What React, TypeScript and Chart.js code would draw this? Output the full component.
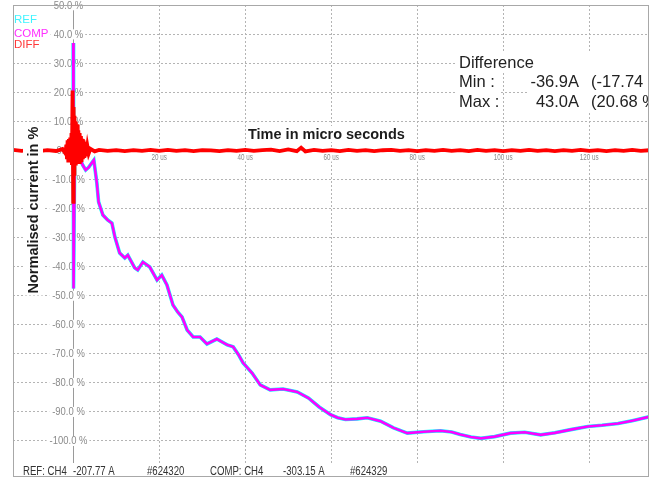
import React, { useEffect, useRef } from 'react';
import { Chart, registerables } from 'chart.js';

Chart.register(...registerables);

// ---------- data ----------
const seriesNames = ['REF', 'COMP', 'DIFF'];
const seriesColors = ['#00ffff', '#ff00ff', '#ff0000'];
const legendColors = ['#40f4ff', '#ff30ff', '#ff3838'];

const yTickValues = [50, 40, 30, 20, 10, 0, -10, -20, -30, -40, -50, -60, -70, -80, -90, -100];
const yGridValues = [40, 30, 20, 10, 0, -10, -20, -30, -40, -50, -60, -70, -80, -90, -100];
const xTickValues = [20, 40, 60, 80, 100, 120];
const xTickLabels = ['20 us', '40 us', '60 us', '80 us', '100 us', '120 us'];

const xTitle = 'Time in micro seconds';
const yTitle = 'Normalised current in %';

const diffTitle = 'Difference';
const diffRowLabels = ['Min :', 'Max :'];
const diffRowAmps = ['-36.9A', '43.0A'];
const diffRowPercents = ['(-17.74 %)', '(20.68 %)'];

const footerTexts = ['REF: CH4', '-207.77 A', '#624320', 'COMP: CH4', '-303.15 A', '#624329'];

// COMP curve (us, %)
const compTimes = [0, 0.08, 0.35, 0.8, 1.5, 2.2, 2.9, 3.6, 4.3, 4.8, 5.5, 5.9, 6.9, 8.0, 9.0, 9.7,
  10.8, 12.0, 12.7, 14.3, 15.0, 16.2, 17.8, 19.5, 20.6, 21.8, 23.2, 24.3, 25.3, 26.5, 27.9, 29.5, 31.1,
  33.4, 35.8, 37.2, 38.4, 39.5, 41.6, 43.5, 45.8, 48.8, 50.5, 52.1, 54.7, 57.2, 59.8, 61.5, 63.3, 66.0, 68.4, 71.5, 74.5,
  77.7, 81.5, 85.4, 88.0, 90.0, 92.5, 94.8, 98.0, 101.7, 105.0, 108.7, 112.0, 116.0, 119.7, 123.0, 126.7, 130.0, 133.9];
const compValues = [37, -47.5, -1.5, -2.5, -2.6, -5.0, -6.7, -5.8, -4.3, -3.3, -11.2, -17.7, -22.2, -23.9, -25.0, -29.8,
  -35.3, -37.0, -36.0, -40.4, -41.1, -38.4, -40.1, -44.6, -42.9, -46.3, -53.2, -55.6, -57.3, -61.8, -64.2, -64.2, -66.6,
  -64.9, -66.9, -67.6, -70.2, -73.1, -76.6, -80.7, -82.4, -82.1, -82.6, -83.1, -85.2, -88.3, -90.9, -92.0, -92.6, -92.4, -92.0, -93.2, -95.5,
  -97.3, -96.8, -96.5, -96.9, -97.8, -98.6, -99.1, -98.5, -97.3, -97.0, -97.9, -97.2, -96.0, -95.0, -94.6, -94.0, -93.0, -91.7];
// REF lies under COMP (same trace within line width)
const refTimes = compTimes;
const refValues = compValues;

// DIFF trace (us, %)
const diffTimes = [
  -14, -12, -10, -8, -6, -4, -2.5, -1.8, -1.6, -1.45,
  -1.3, -1.15, -1.0, -0.85, -0.7, -0.55, -0.4, -0.3, -0.15, 0,
  0.1, 0.2, 0.3, 0.45, 0.6, 0.75, 0.9, 1.05, 1.2, 1.35,
  1.5, 1.65, 1.8, 1.95, 2.1, 2.25, 2.4, 2.6, 2.8, 3.0,
  3.3, 3.6, 4, 5, 6, 8, 10, 12, 14, 16,
  18, 20, 22, 24, 26, 28, 30, 32, 34, 36,
  38, 40, 42, 44, 46, 48, 50, 52, 53, 54,
  56, 58, 60, 62, 64, 66, 68, 70, 72, 74,
  76, 78, 80, 82, 84, 86, 88, 90, 92, 94,
  96, 98, 100, 102, 104, 106, 108, 110, 112, 114,
  116, 118, 120, 122, 124, 126, 128, 130, 132, 133.9];
const diffValues = [
  0.2, -0.1, 0.15, -0.2, 0.1, -0.15, 0.5, -1.0, 2.0, -3.0,
  3.5, -3.5, 4.0, -4.0, 4.5, -3.0, 6.0, -5.0, 20.7, -17.7,
  15.0, -8.0, 12.0, -4.5, 10.0, -4.0, 9.0, -4.5, 7.0, -4.0,
  6.0, -3.5, 5.0, -4.0, 4.0, -3.0, 3.5, -2.5, 3.0, -2.0,
  1.5, -1.0, 0.6, -0.3, 0.2, -0.1, 0.15, -0.2, 0.1, -0.15,
  0.2, -0.1, 0.25, -0.15, 0.1, -0.2, 0.15, 0.05, -0.2, 0.15,
  -0.1, 0.2, -0.15, 0.1, 0.3, -0.2, 0.4, -0.2, 1.0, -0.3,
  0.2, -0.15, 0.1, -0.2, 0.25, -0.1, 0.15, -0.2, 0.1, 0.2,
  -0.15, 0.1, -0.2, 0.15, -0.1, 0.2, -0.15, 0.1, -0.2, 0.25,
  -0.1, 0.15, -0.2, 0.1, -0.15, 0.2, -0.1, 0.15, -0.2, 0.1,
  -0.15, 0.2, -0.1, 0.15, -0.2, 0.1, -0.15, 0.2, -0.1, 0.1];

const xMin = -14.0;
const xMax = 133.9;
const yMin = -112.4;
const yMax = 50.1;

const toPoints = (ts: number[], vs: number[]) => ts.map((t, i) => ({ x: t, y: vs[i] }));

const FONT = '"Liberation Sans", Arial, sans-serif';

function condensedText(ctx: CanvasRenderingContext2D, text: string, x: number, y: number, sx: number, align: CanvasTextAlign) {
  ctx.save();
  ctx.translate(x, y);
  ctx.scale(sx, 1);
  ctx.textAlign = align;
  ctx.fillText(text, 0, 0);
  ctx.restore();
}

const overlayPlugin = {
  id: 'scopeOverlay',
  beforeDatasetsDraw(chart: any) {
    const { ctx, chartArea: a, scales } = chart;
    const xs = scales.x;
    const ys = scales.y;
    const x0 = Math.round(xs.getPixelForValue(0)) + 0.5;
    ctx.save();
    // y axis line at t = 0
    ctx.strokeStyle = '#9a9a9a';
    ctx.lineWidth = 1;
    ctx.beginPath();
    ctx.moveTo(x0, a.top);
    ctx.lineTo(x0, a.bottom);
    ctx.stroke();

    // y tick labels centred near the axis
    ctx.font = `10.5px ${FONT}`;
    ctx.textBaseline = 'middle';
    yTickValues.forEach((v) => {
      const py = ys.getPixelForValue(v);
      const label = `${v.toFixed(1)} %`;
      const w = ctx.measureText(label).width * 0.9;
      const cx = x0 - 5;
      ctx.fillStyle = '#ffffff';
      ctx.fillRect(cx - w / 2 - 3, py - 5, w + 5, 10);
      ctx.fillStyle = '#8a8a8a';
      condensedText(ctx, label, cx, py + 0.5, 0.9, 'center');
    });

    // x tick labels under zero line
    const zy = ys.getPixelForValue(0);
    ctx.font = `9.5px ${FONT}`;
    xTickValues.forEach((t, i) => {
      const px = xs.getPixelForValue(t);
      const w = ctx.measureText(xTickLabels[i]).width * 0.66;
      ctx.fillStyle = '#ffffff';
      ctx.fillRect(px - w / 2 - 1, zy + 2, w + 2, 9);
      ctx.fillStyle = '#8a8a8a';
      condensedText(ctx, xTickLabels[i], px, zy + 6.5, 0.66, 'center');
    });
    ctx.restore();
  },
  afterDatasetsDraw(chart: any) {
    const { ctx, chartArea: a, scales } = chart;
    const ys = scales.y;
    ctx.save();
    ctx.beginPath();
    ctx.rect(a.left, a.top, a.right - a.left, a.bottom - a.top);
    ctx.clip();

    // rotated y title
    ctx.font = `bold 14.5px ${FONT}`;
    ctx.textBaseline = 'middle';
    ctx.textAlign = 'center';
    const yw = ctx.measureText(yTitle).width;
    ctx.save();
    ctx.translate(33, ys.getPixelForValue(-20.5));
    ctx.rotate(-Math.PI / 2);
    ctx.fillStyle = '#ffffff';
    ctx.fillRect(-yw / 2 - 2, -10, yw + 4, 20);
    ctx.fillStyle = '#1c1c1c';
    ctx.fillText(yTitle, 0, 1);
    ctx.restore();

    // x title
    ctx.textBaseline = 'alphabetic';
    ctx.textAlign = 'left';
    const xw = ctx.measureText(xTitle).width;
    ctx.fillStyle = '#ffffff';
    ctx.fillRect(246, 126, xw + 4, 16);
    ctx.fillStyle = '#1c1c1c';
    ctx.fillText(xTitle, 248, 139);

    // difference box
    ctx.font = `16.5px ${FONT}`;
    ctx.fillStyle = '#ffffff';
    ctx.fillRect(457, 53, a.right - 457, 20);
    ctx.fillRect(457, 73, 43, 38);
    ctx.fillRect(527, 73, a.right - 527, 38);
    ctx.fillStyle = '#222222';
    ctx.fillText(diffTitle, 459, 68);
    const rowBase = [86.5, 106.5];
    diffRowLabels.forEach((lab, i) => {
      ctx.textAlign = 'left';
      ctx.fillText(lab, 459, rowBase[i]);
      ctx.textAlign = 'right';
      ctx.fillText(diffRowAmps[i], 579, rowBase[i]);
      ctx.textAlign = 'left';
      ctx.fillText(diffRowPercents[i], 591, rowBase[i]);
    });

    // legend
    ctx.font = `11.5px ${FONT}`;
    const legBase = [22.5, 36.5, 47.5];
    seriesNames.forEach((n, i) => {
      const w = ctx.measureText(n).width;
      ctx.fillStyle = '#ffffff';
      ctx.fillRect(a.left + 1, legBase[i] - 9, w + 2, 11);
      ctx.fillStyle = legendColors[i];
      ctx.fillText(n, a.left + 1, legBase[i]);
    });

    // footer band
    ctx.fillStyle = '#ffffff';
    ctx.fillRect(a.left + 1, 463, a.right - a.left - 2, a.bottom - 463);
    ctx.font = `12px ${FONT}`;
    ctx.fillStyle = '#333333';
    const footX = [23, 73, 147, 210, 283, 350];
    footerTexts.forEach((t, i) => condensedText(ctx, t, footX[i], 474.5, 0.8, 'left'));
    ctx.restore();

    // frame
    ctx.save();
    ctx.strokeStyle = '#a8a8a8';
    ctx.lineWidth = 1;
    ctx.strokeRect(a.left + 0.5, a.top + 0.5, a.right - a.left - 1, a.bottom - a.top - 1);
    ctx.restore();
  },
};

export default function App() {
  const ref = useRef<HTMLCanvasElement | null>(null);
  useEffect(() => {
    if (!ref.current) return;
    const chart = new Chart(ref.current, {
      type: 'scatter',
      data: {
        datasets: [
          {
            label: seriesNames[2],
            data: toPoints(diffTimes, diffValues),
            borderColor: seriesColors[2],
            backgroundColor: seriesColors[2],
            borderWidth: 3.8,
            showLine: true,
            pointRadius: 0,
            tension: 0,
          },
          {
            label: seriesNames[1],
            data: toPoints(compTimes, compValues),
            borderColor: seriesColors[1],
            backgroundColor: seriesColors[1],
            borderWidth: 2.6,
            showLine: true,
            pointRadius: 0,
            tension: 0,
          },
          {
            label: seriesNames[0],
            data: toPoints(refTimes, refValues),
            borderColor: seriesColors[0],
            backgroundColor: seriesColors[0],
            borderWidth: 3.6,
            showLine: true,
            pointRadius: 0,
            tension: 0,
          },
        ],
      },
      options: {
        animation: false,
        responsive: false,
        devicePixelRatio: 1,
        layout: { padding: { left: 13, top: 5, right: 14, bottom: 5 } },
        plugins: { legend: { display: false }, tooltip: { enabled: false } },
        scales: {
          x: {
            type: 'linear',
            min: xMin,
            max: xMax,
            afterBuildTicks: (s: any) => { s.ticks = xTickValues.map((v) => ({ value: v })); },
            ticks: { display: false },
            grid: { color: '#b4b4b4', lineWidth: 1, drawTicks: false },
            border: { display: false, dash: [2, 2] },
          },
          y: {
            type: 'linear',
            min: yMin,
            max: yMax,
            afterBuildTicks: (s: any) => { s.ticks = yGridValues.map((v) => ({ value: v })); },
            ticks: { display: false },
            grid: { color: '#b4b4b4', lineWidth: 1, drawTicks: false },
            border: { display: false, dash: [2, 2] },
          },
        },
      },
      plugins: [overlayPlugin],
    } as any);
    return () => chart.destroy();
  }, []);
  return (
    <div style={{ position: 'fixed', left: 0, top: 0, width: 663, height: 482, background: '#ffffff' }}>
      <canvas ref={ref} width={663} height={482} style={{ display: 'block' }} />
    </div>
  );
}
